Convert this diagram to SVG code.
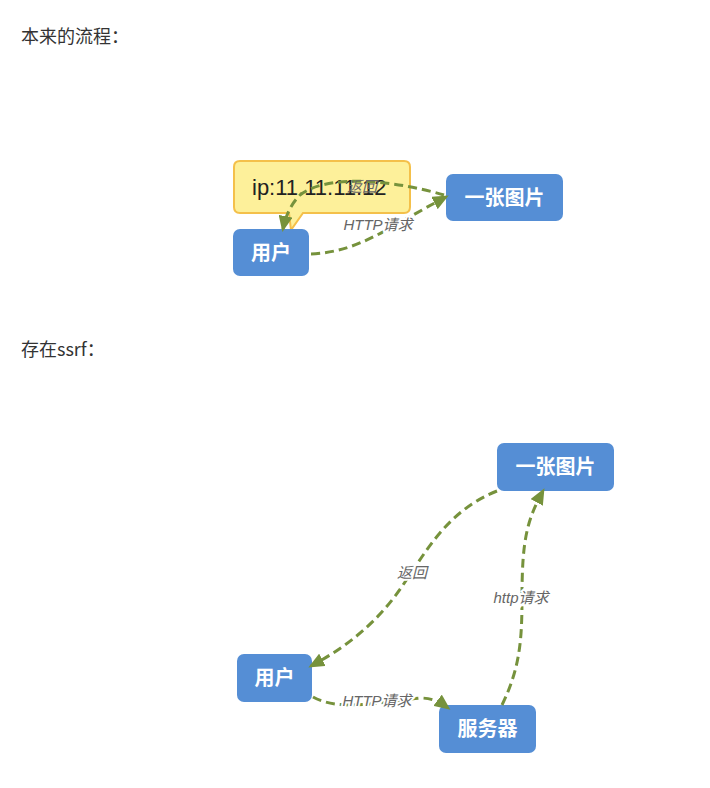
<svg xmlns="http://www.w3.org/2000/svg" width="710" height="788" viewBox="0 0 710 788">
<style>
.h{font-family:"Microsoft YaHei","Noto Sans CJK SC",sans-serif;font-size:18px;fill:#333}
.node rect{fill:#558ed5}
.node text{font-family:"Noto Sans CJK SC",sans-serif;font-size:20px;font-weight:bold;fill:#fff;text-anchor:middle}
.c{fill:none;stroke:#76923c;stroke-width:3;stroke-dasharray:9 5}
.lbl{font-family:"Liberation Sans","Noto Sans CJK SC",sans-serif;font-size:15px;font-style:italic;fill:#666;text-anchor:middle}
.halo{stroke:#fff;stroke-width:4;paint-order:stroke}
</style>
<defs>
<marker id="a" markerUnits="userSpaceOnUse" markerWidth="16" markerHeight="14" refX="13" refY="7" orient="auto">
<path d="M0,0 L16,7 L0,14 Z" fill="#76923c"/>
</marker>
</defs>
<rect width="710" height="788" fill="#fff"/>
<text class="h" x="21" y="43">本来的流程：</text>
<text class="h" x="21" y="356">存在ssrf：</text>

<g id="callout">
<path d="M240,161 H404 Q410,161 410,167 V207 Q410,213 404,213 H303 L291,230 L289,213 H240 Q234,213 234,207 V167 Q234,161 240,161 Z" fill="#fdf09a" stroke="#f4c04a" stroke-width="2"/>
<text x="252" y="195" font-family="Liberation Sans,sans-serif" font-size="22" fill="#222">ip:11.11.11.12</text>
</g>
<g id="top-user" class="node"><rect x="233" y="229" width="76" height="47" rx="7"/><text x="271" y="260">用户</text></g>
<g id="top-img" class="node"><rect x="446" y="174" width="117" height="47" rx="7"/><text x="504.5" y="205">一张图片</text></g>

<g id="bot-img" class="node"><rect x="497" y="443" width="117" height="48" rx="7"/><text x="555.5" y="474">一张图片</text></g>
<g id="bot-user" class="node"><rect x="237" y="654" width="75" height="48" rx="7"/><text x="274.5" y="685">用户</text></g>
<g id="bot-srv" class="node"><rect x="439" y="705" width="97" height="48" rx="7"/><text x="487.5" y="736">服务器</text></g>

<g id="connectors">
<path class="c" d="M311,254 C360,252 390,226 446,197" marker-end="url(#a)"/>
<path class="c" d="M444,195 C400,182 330,172 300,195 C292,203 286,214 283,229" marker-end="url(#a)"/>
<text class="lbl" x="362" y="192">返回</text>
<text class="lbl halo" x="378" y="230">HTTP请求</text>

<path class="c" d="M497,491 C450,510 430,545 405,582 C380,620 350,645 311,666" marker-end="url(#a)"/>
<text class="lbl halo" x="412" y="578">返回</text>
<path class="c" d="M502,705 C520,668 522,640 522,597 C522,540 527,520 543,491" marker-end="url(#a)"/>
<text class="lbl halo" x="521" y="603">http请求</text>
<path class="c" d="M313,697 C340,712 380,702 420,698 C432,698 440,702 448,708" marker-end="url(#a)"/>
<text class="lbl halo" x="377" y="706">HTTP请求</text>
</g>
</svg>
